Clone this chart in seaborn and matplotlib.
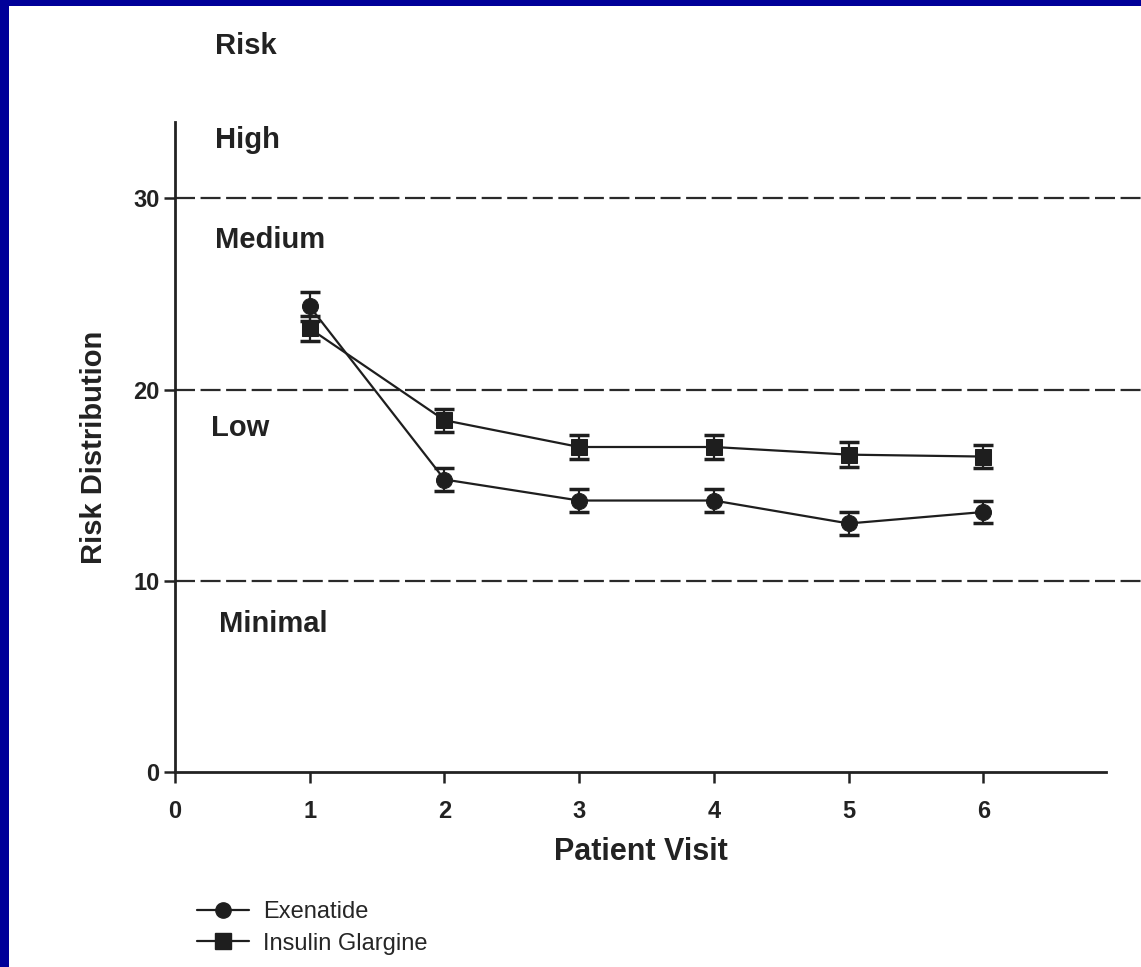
import numpy as np
import pandas as pd
import matplotlib
matplotlib.use("Agg")
import matplotlib.pyplot as plt
from matplotlib.patches import Rectangle
from matplotlib.lines import Line2D
import seaborn as sns

# ---- data ----
visits = [1, 2, 3, 4, 5, 6]
exenatide = [24.35, 15.3, 14.2, 14.2, 13.0, 13.6]
exenatide_err = [0.75, 0.6, 0.6, 0.6, 0.6, 0.6]
glargine = [23.2, 18.4, 17.0, 17.0, 16.6, 16.5]
glargine_err = [0.65, 0.6, 0.65, 0.65, 0.65, 0.6]
thresholds = [10, 20, 30]
risk_labels = ["Risk", "High", "Medium", "Low", "Minimal"]
risk_label_y = [37.95, 33.05, 27.85, 18.0, 7.75]
risk_label_x = [0.30, 0.30, 0.30, 0.27, 0.33]

df = pd.DataFrame({
    "visit": visits * 2,
    "value": exenatide + glargine,
    "treatment": ["Exenatide"] * 6 + ["Insulin Glargine"] * 6,
})

sns.set_style("ticks")
fam = ["Liberation Sans", "DejaVu Sans"]
plt.rcParams["font.family"] = fam

fig = plt.figure(figsize=(11.41, 9.67), dpi=100)
fig.patch.set_facecolor("#000099")
fig.patches.append(Rectangle((9 / 1141, 0), 1, 1 - 6 / 967, transform=fig.transFigure,
                             facecolor="white", edgecolor="none", zorder=-1))

ax = fig.add_axes([175 / 1141, 1 - 772 / 967, (1106 - 175) / 1141, (772 - 122) / 967])
ax.set_facecolor("none")

ink = "#1e1e1e"
sns.lineplot(data=df, x="visit", y="value", style="treatment",
             markers={"Exenatide": "o", "Insulin Glargine": "s"}, dashes=False,
             color=ink, linewidth=1.6, markersize=11.5, markeredgecolor=ink,
             legend=False, ax=ax, zorder=4)

for vals, errs in [(exenatide, exenatide_err), (glargine, glargine_err)]:
    ax.errorbar(visits, vals, yerr=errs, fmt="none", ecolor=ink, elinewidth=1.6,
                capsize=7.5, capthick=2.5, zorder=3)

for t in thresholds:
    ax.plot([0, 1.038], [t, t], transform=ax.get_yaxis_transform(), color="#2a2a2a",
            lw=1.6, linestyle=(0, (9, 2.5)), clip_on=False, zorder=2)

for lab, x, y in zip(risk_labels, risk_label_x, risk_label_y):
    ax.text(x, y, lab, fontsize=21, fontweight="bold", color="#222222",
            ha="left", va="center", clip_on=False)

ax.set_xlim(0, 6.91)
ax.set_ylim(0, 34.0)
ax.set_xticks(range(0, 7))
ax.set_yticks([0, 10, 20, 30])
sns.despine(ax=ax)
for s in ["left", "bottom"]:
    ax.spines[s].set_linewidth(2)
    ax.spines[s].set_color("#222222")
ax.tick_params(axis="both", direction="out", length=8, width=1.8, color="#222222",
               labelsize=17, labelcolor="#222222")
ax.tick_params(axis="x", pad=12)
ax.tick_params(axis="y", pad=3)
for lbl in ax.get_xticklabels() + ax.get_yticklabels():
    lbl.set_fontweight("bold")

ax.set_xlabel("Patient Visit", fontsize=22, fontweight="bold",
              color="#222222", labelpad=10)
ax.set_ylabel("Risk Distribution", fontsize=21, fontweight="bold", color="#222222",
              labelpad=18)

handles = [
    Line2D([], [], color=ink, lw=1.6, marker="o", markersize=11, label="Exenatide"),
    Line2D([], [], color=ink, lw=1.6, marker="s", markersize=11, label="Insulin Glargine"),
]
fig.legend(handles=handles, loc="upper left", bbox_to_anchor=(176 / 1141, 1 - 880 / 967),
           frameon=False, handlelength=2.2, handletextpad=0.6, labelspacing=0.4,
           prop={"size": 17})

fig.savefig("out.png", dpi=100, facecolor=fig.get_facecolor())
